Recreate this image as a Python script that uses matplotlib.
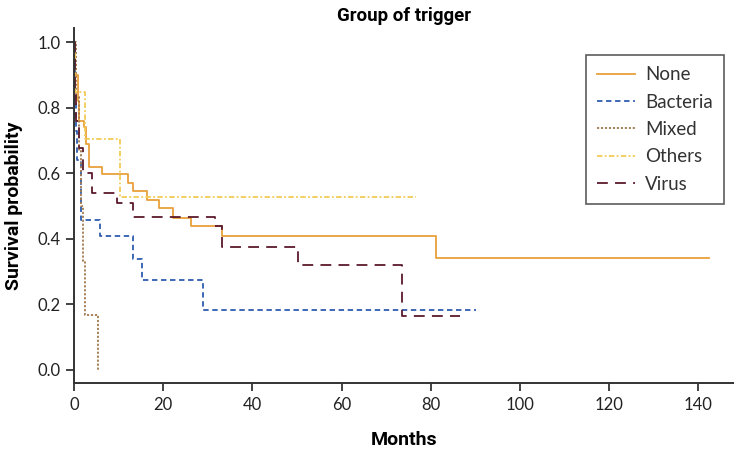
import matplotlib
matplotlib.use('Agg')
import matplotlib.pyplot as plt

# Kaplan-Meier steps (months, survival)
none_t = [0, 0.3, 0.8, 1.2, 2.2, 2.6, 3.4, 6.3, 12.0, 13.3, 16.4, 19.1, 22.1, 26.2, 33.1, 81.2, 142.4]
none_s = [1.0, 0.90, 0.82, 0.76, 0.74, 0.69, 0.62, 0.597, 0.572, 0.546, 0.520, 0.493, 0.465, 0.439, 0.409, 0.341, 0.341]

bact_t = [0, 0.2, 0.4, 0.7, 1.6, 5.7, 13.2, 15.2, 28.8, 90.2]
bact_s = [1.0, 0.82, 0.73, 0.64, 0.459, 0.41, 0.34, 0.274, 0.183, 0.183]

mixed_t = [0, 0.5, 1.2, 1.6, 1.9, 2.4, 5.3, 5.3]
mixed_s = [1.0, 0.833, 0.667, 0.5, 0.333, 0.167, 0.0, 0.0]

others_t = [0, 0.3, 2.4, 10.2, 76.7]
others_s = [1.0, 0.848, 0.706, 0.528, 0.528]

virus_t = [0, 0.2, 0.5, 1.0, 2.1, 3.9, 9.6, 13.3, 31.5, 33.1, 50.2, 73.5, 86.6]
virus_s = [1.0, 0.85, 0.76, 0.676, 0.60, 0.539, 0.508, 0.467, 0.44, 0.374, 0.32, 0.163, 0.163]

xticks = [0, 20, 40, 60, 80, 100, 120, 140]
yticks = [0.0, 0.2, 0.4, 0.6, 0.8, 1.0]

tick_font = ['Lato', 'DejaVu Sans']
bold_font = ['Roboto', 'DejaVu Sans']

fig = plt.figure(figsize=(7.34, 4.55), dpi=100)
ax = fig.add_axes([0.101, 0.159, 0.899, 0.779])

lw = 1.3
ax.step(none_t, none_s, where='post', color='#E8A03A', lw=lw, label='None')
ax.step(bact_t, bact_s, where='post', color='#2F5DB0', lw=lw, dashes=(3, 2), label='Bacteria')
ax.step(mixed_t, mixed_s, where='post', color='#A27A4C', lw=lw, dashes=(1.2, 1), label='Mixed')
ax.step(others_t, others_s, where='post', color='#F2CC55', lw=lw, dashes=(3, 1.3, 1, 1.3), label='Others')
ax.step(virus_t, virus_s, where='post', color='#5A1A2C', lw=lw, dashes=(6, 4), label='Virus')

ax.set_xlim(0, 148)
ax.set_ylim(-0.039, 1.043)
ax.set_xticks(xticks)
ax.set_yticks(yticks)
ax.set_xticklabels([str(v) for v in xticks], family=tick_font, fontsize=12, color='#222222')
ax.set_yticklabels(['%.1f' % v for v in yticks], family=tick_font, fontsize=12, color='#222222')
ax.tick_params(direction='out', length=6, width=1.2, color='#222222', pad=4)

for side in ['top', 'right']:
    ax.spines[side].set_visible(False)
for side in ['left', 'bottom']:
    ax.spines[side].set_linewidth(1.4)
    ax.spines[side].set_color('#333333')

ax.set_title('Group of trigger', family=bold_font, fontweight='bold', fontsize=13.5, pad=5)
ax.set_xlabel('Months', family=bold_font, fontweight='bold', fontsize=14, labelpad=13)
ax.set_ylabel('Survival probability', family=bold_font, fontweight='bold', fontsize=14, labelpad=10)

leg = ax.legend(loc='upper right', bbox_to_anchor=(0.985, 0.924), frameon=True, fancybox=False,
                prop={'family': tick_font, 'size': 13.5}, handlelength=2.0, handletextpad=0.55,
                labelspacing=0.55, borderpad=0.6, borderaxespad=0)
leg.get_frame().set_edgecolor('#333333')
leg.get_frame().set_linewidth(1.2)
for t in leg.get_texts():
    t.set_color('#333333')

fig.savefig('out.png', dpi=100)
